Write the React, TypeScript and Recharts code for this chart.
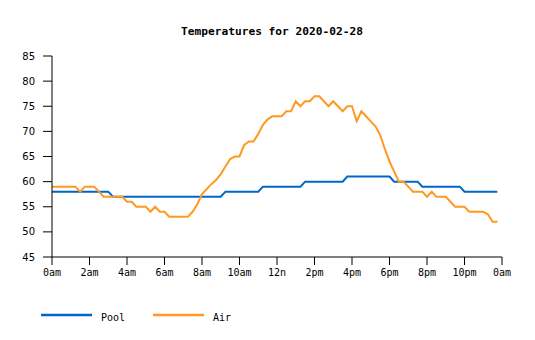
import React from 'react';
import { LineChart, Line, XAxis, YAxis } from 'recharts';

const TITLE = 'Temperatures for 2020-02-28';
const SAMPLE_STEP_HOURS = 0.25;

const seriesNames = ['Pool', 'Air'];
const seriesColors = ['#0066cc', '#ff9922'];

const pool = [
  58, 58, 58, 58, 58, 58, 58, 58, 58, 58, 58, 58, 58,
  57, 57, 57, 57, 57, 57, 57, 57, 57, 57, 57, 57, 57, 57, 57, 57, 57, 57, 57, 57, 57, 57, 57, 57,
  58, 58, 58, 58, 58, 58, 58, 58,
  59, 59, 59, 59, 59, 59, 59, 59, 59,
  60, 60, 60, 60, 60, 60, 60, 60, 60,
  61, 61, 61, 61, 61, 61, 61, 61, 61, 61,
  60, 60, 60, 60, 60, 60,
  59, 59, 59, 59, 59, 59, 59, 59, 59,
  58, 58, 58, 58, 58, 58, 58, 58,
];

const air = [
  59, 59, 59, 59, 59, 59, 58, 59,
  59, 59, 58, 57, 57, 57, 57, 57,
  56, 56, 55, 55, 55, 54, 55, 54,
  54, 53, 53, 53, 53, 53, 54, 55.5,
  57.5, 58.5, 59.5, 60.3, 61.5, 63, 64.5, 65,
  65, 67.3, 68, 68, 69.5, 71.3, 72.4, 73,
  73, 73, 74, 74, 76, 75, 76, 76,
  77, 77, 76, 75, 76, 75, 74, 75,
  75, 72, 74, 73, 72, 71, 69.3, 66.5,
  64, 62, 60, 60, 59, 58, 58, 58,
  57, 58, 57, 57, 57, 56, 55, 55,
  55, 54, 54, 54, 54, 53.5, 52, 52,
];

const hourTicks = [0, 2, 4, 6, 8, 10, 12, 14, 16, 18, 20, 22, 24];
const hourTickLabels = ['0am', '2am', '4am', '6am', '8am', '10am', '12n', '2pm', '4pm', '6pm', '8pm', '10pm', '0am'];
const tempTicks = [45, 50, 55, 60, 65, 70, 75, 80, 85];

const data = pool.map((p, i) => ({ t: i * SAMPLE_STEP_HOURS, pool: p, air: air[i] }));

const MONO = "'DejaVu Sans Mono', monospace";
const SANS = "'DejaVu Sans', sans-serif";

export default function App() {
  return (
    <div style={{ position: 'absolute', left: 0, top: 0, width: 535, height: 340, background: '#fff' }}>
      <LineChart width={535} height={340} data={data} margin={{ top: 56, right: 33, bottom: 53, left: 0 }}>
        <text x={272} y={35} textAnchor="middle" fontFamily={MONO} fontWeight="bold" fontSize={11.2} fill="#000">
          {TITLE}
        </text>
        <XAxis
          dataKey="t"
          type="number"
          domain={[0, 24]}
          ticks={hourTicks}
          interval={0}
          tickFormatter={(v: number) => hourTickLabels[hourTicks.indexOf(v)]}
          height={30}
          tickSize={8}
          tickMargin={4}
          stroke="#000"
          tick={{ fill: '#000', fontSize: 10, fontFamily: MONO }}
        />
        <YAxis
          type="number"
          domain={[45, 85]}
          ticks={tempTicks}
          interval={0}
          width={52}
          tickSize={9}
          tickMargin={8}
          stroke="#000"
          tick={{ fill: '#000', fontSize: 10, fontFamily: SANS }}
        />
        <Line type="linear" dataKey="pool" name={seriesNames[0]} stroke={seriesColors[0]} strokeWidth={2} dot={false} activeDot={false} isAnimationActive={false} />
        <Line type="linear" dataKey="air" name={seriesNames[1]} stroke={seriesColors[1]} strokeWidth={2} dot={false} activeDot={false} isAnimationActive={false} />
        <g className="legend">
          <line x1={41} x2={92} y1={315} y2={315} stroke={seriesColors[0]} strokeWidth={2.5} />
          <text x={101} y={321} fontFamily={MONO} fontSize={10} fill="#000">{seriesNames[0]}</text>
          <line x1={153} x2={204} y1={315} y2={315} stroke={seriesColors[1]} strokeWidth={2.5} />
          <text x={213} y={321} fontFamily={MONO} fontSize={10} fill="#000">{seriesNames[1]}</text>
        </g>
      </LineChart>
    </div>
  );
}
